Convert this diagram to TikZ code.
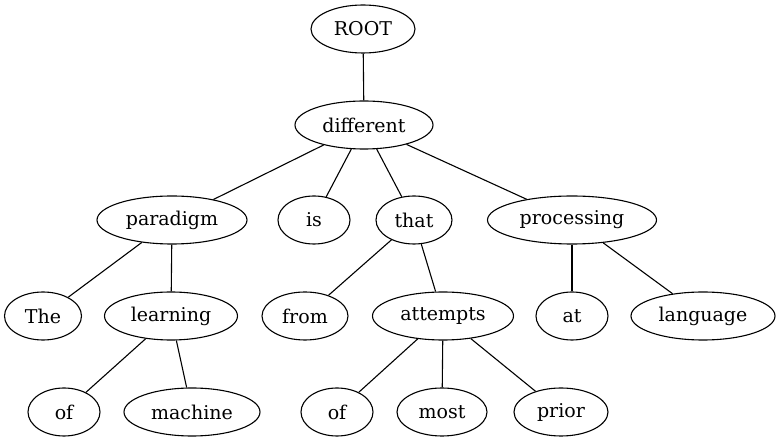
\documentclass[tikz,border=0pt]{standalone}
\usepackage{fontspec}
\setmainfont{DejaVu Serif}
\usetikzlibrary{shapes.geometric}
\begin{document}
\begin{tikzpicture}[x=1pt,y=-1pt,
  word/.style={ellipse,draw,line width=1.1pt,inner sep=0pt,minimum height=48pt,
    font=\fontsize{19}{23}\selectfont},
  link/.style={line width=1.1pt}]
\useasboundingbox (0,0) rectangle (780,443);
% level 0
\node[word,minimum width=104pt] (root) at (363,29) {ROOT};
% level 1
\node[word,minimum width=138pt] (different) at (364,125) {different};
% level 2
\node[word,minimum width=150pt] (paradigm) at (172,220) {paradigm};
\node[word,minimum width=72pt] (is) at (314,220) {is};
\node[word,minimum width=76pt] (that) at (414,220) {that};
\node[word,minimum width=169pt] (processing) at (572,220) {processing};
% level 3
\node[word,minimum width=77pt] (the) at (43,316) {The};
\node[word,minimum width=133pt] (learning) at (171,316) {learning};
\node[word,minimum width=86pt] (from) at (305,316) {from};
\node[word,minimum width=141pt] (attempts) at (443,316) {attempts};
\node[word,minimum width=72pt] (at) at (572,316) {at};
\node[word,minimum width=144pt] (language) at (703,316) {language};
% level 4
\node[word,minimum width=72pt] (of1) at (64,412) {of};
\node[word,minimum width=136pt] (machine) at (192,412) {machine};
\node[word,minimum width=72pt] (of2) at (337,412) {of};
\node[word,minimum width=90pt] (most) at (442,412) {most};
\node[word,minimum width=94pt] (prior) at (561,412) {prior};
% dependency links
\draw[link] (root) -- (different);
\draw[link] (different) -- (paradigm);
\draw[link] (different) -- (is);
\draw[link] (different) -- (that);
\draw[link] (different) -- (processing);
\draw[link] (paradigm) -- (the);
\draw[link] (paradigm) -- (learning);
\draw[link] (learning) -- (of1);
\draw[link] (learning) -- (machine);
\draw[link] (that) -- (from);
\draw[link] (that) -- (attempts);
\draw[link] (attempts) -- (of2);
\draw[link] (attempts) -- (most);
\draw[link] (attempts) -- (prior);
\draw[link] (processing) -- (at);
\draw[link] (processing) -- (language);
\end{tikzpicture}
\end{document}
